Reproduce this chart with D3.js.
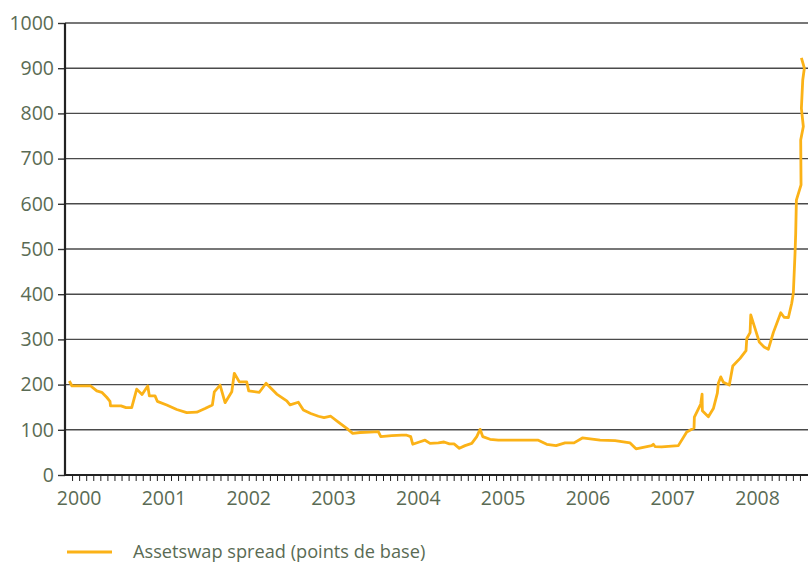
<!DOCTYPE html>
<html>
<head>
<meta charset="utf-8">
<script src="https://cdn.jsdelivr.net/npm/d3@7"></script>
<style>
  html, body { margin: 0; padding: 0; background: #fff; }
  svg { display: block; }
  text { font-family: "Open Sans", "Noto Sans", sans-serif; fill: #5a6b54; }
</style>
</head>
<body>
<div id="chart"></div>
<script>
//------------------------------------------------------
// Données
//------------------------------------------------------

// date en années décimales
const dates = [
  1999.884, 1999.916, 2000.137, 2000.208, 2000.267, 2000.325, 2000.364, 2000.370,
  2000.494, 2000.553, 2000.620, 2000.679, 2000.742, 2000.809, 2000.828, 2000.895,
  2000.922, 2001.033, 2001.151, 2001.269, 2001.387, 2001.485, 2001.571, 2001.594,
  2001.662, 2001.721, 2001.800, 2001.830, 2001.889, 2001.976, 2002.000, 2002.125,
  2002.204, 2002.330, 2002.448, 2002.487, 2002.585, 2002.644, 2002.731, 2002.821,
  2002.888, 2002.967, 2003.057, 2003.156, 2003.226, 2003.313, 2003.430, 2003.528,
  2003.557, 2003.686, 2003.804, 2003.863, 2003.910, 2003.934, 2004.012, 2004.079,
  2004.138, 2004.236, 2004.303, 2004.366, 2004.421, 2004.484, 2004.551, 2004.630,
  2004.689, 2004.728, 2004.759, 2004.846, 2004.943, 2005.081, 2005.415, 2005.514,
  2005.624, 2005.730, 2005.836, 2005.934, 2006.143, 2006.320, 2006.497, 2006.567,
  2006.752, 2006.771, 2006.791, 2006.870, 2007.066, 2007.165, 2007.251, 2007.255,
  2007.330, 2007.346, 2007.349, 2007.420, 2007.479, 2007.526, 2007.538, 2007.566,
  2007.597, 2007.667, 2007.708, 2007.794, 2007.864, 2007.873, 2007.912, 2007.920,
  2007.971, 2008.021, 2008.077, 2008.127, 2008.186, 2008.274, 2008.313, 2008.363,
  2008.403, 2008.422, 2008.442, 2008.450, 2008.458, 2008.513, 2008.509, 2008.540,
  2008.517, 2008.533, 2008.552, 2008.517
];

// spread en points de base
const spread = [
  208, 197, 197, 186, 183, 172, 163, 153,
  153, 149, 149, 190, 178, 197, 175, 175,
  163, 155, 145, 138, 139, 147, 155, 184,
  199, 160, 184, 225, 206, 206, 186, 183,
  203, 179, 164, 155, 161, 144, 136, 130,
  127, 130, 117, 103, 92, 94, 95, 96,
  85, 87, 88, 88, 85, 68, 73, 77,
  70, 71, 73, 69, 69, 59, 65, 70,
  85, 101, 85, 79, 77, 77, 77, 68,
  65, 71, 71, 82, 77, 76, 71, 58,
  65, 68, 63, 62, 65, 95, 104, 128,
  157, 179, 142, 129, 147, 181, 203, 217,
  205, 199, 241, 258, 275, 302, 315, 354,
  324, 294, 283, 278, 315, 359, 349, 348,
  380, 402, 490, 535, 608, 642, 741, 771,
  811, 874, 900, 923
];

const yTicks = [0, 100, 200, 300, 400, 500, 600, 700, 800, 900, 1000];
const yearLabels = [2000, 2001, 2002, 2003, 2004, 2005, 2006, 2007, 2008];
const legendLabel = "Assetswap spread (points de base)";

//------------------------------------------------------
// Graphique
//------------------------------------------------------

const width = 808;
const height = 563;
const margin = { top: 23, right: 0, bottom: 88, left: 65 };

const orange = "#fbb217";
const fontSize = 19.5;

const svg = d3.select("#chart").append("svg")
  .attr("width", width)
  .attr("height", height);

const x = d3.scaleLinear()
  .domain([1999 + 10 / 12, 2008.595])
  .range([margin.left, width - margin.right]);

const y = d3.scaleLinear()
  .domain([0, 1000])
  .range([height - margin.bottom, margin.top]);

// lignes de grille
svg.append("g")
  .selectAll("line")
  .data(yTicks.filter(d => d > 0))
  .join("line")
  .attr("x1", margin.left)
  .attr("x2", width)
  .attr("y1", d => y(d))
  .attr("y2", d => y(d))
  .attr("stroke", "#4a4a4a")
  .attr("stroke-width", 1.4);

// axe Y
const yAxis = svg.append("g")
  .attr("transform", `translate(${margin.left},0)`)
  .call(d3.axisLeft(y)
    .tickValues(yTicks)
    .tickFormat(d3.format("d"))
    .tickSize(7)
    .tickPadding(4));

yAxis.select(".domain").remove();
yAxis.selectAll(".tick line").attr("stroke", "#333").attr("stroke-width", 1.4);
yAxis.selectAll(".tick text")
  .attr("font-size", fontSize)
  .attr("font-family", "Open Sans")
  .attr("fill", "#5a6b54");

// ticks mensuels
const months = d3.range(1, 105).map(i => 1999 + 10 / 12 + i / 12)
  .filter(d => d <= x.domain()[1]);

const xAxis = svg.append("g")
  .attr("transform", `translate(0,${y(0)})`)
  .call(d3.axisBottom(x).tickValues(months).tickSize(6).tickFormat(""));

xAxis.select(".domain").remove();
xAxis.selectAll(".tick line").attr("stroke", "#222").attr("stroke-width", 1);

// libellés des années
svg.append("g")
  .selectAll("text")
  .data(yearLabels)
  .join("text")
  .attr("x", d => x(d))
  .attr("y", y(0) + 29.5)
  .attr("text-anchor", "middle")
  .attr("font-size", fontSize)
  .text(d => d);

// axes principaux
svg.append("line")
  .attr("x1", margin.left).attr("x2", margin.left)
  .attr("y1", y(1000)).attr("y2", y(0) + 1)
  .attr("stroke", "#222").attr("stroke-width", 2.2);

svg.append("line")
  .attr("x1", margin.left - 1).attr("x2", width)
  .attr("y1", y(0)).attr("y2", y(0))
  .attr("stroke", "#222").attr("stroke-width", 2.2);

// courbe
const line = d3.line()
  .x((d, i) => x(dates[i]))
  .y(d => y(d));

svg.append("path")
  .datum(spread)
  .attr("fill", "none")
  .attr("stroke", orange)
  .attr("stroke-width", 2.8)
  .attr("stroke-linejoin", "round")
  .attr("d", line);

// légende
const legend = svg.append("g")
  .attr("transform", `translate(67,${y(0) + 77})`);

legend.append("line")
  .attr("x1", 0).attr("x2", 45)
  .attr("y1", 0).attr("y2", 0)
  .attr("stroke", orange)
  .attr("stroke-width", 2.8);

legend.append("text")
  .attr("x", 66)
  .attr("y", 0)
  .attr("dy", "0.35em")
  .attr("font-size", 18.2)
  .text(legendLabel);
</script>
</body>
</html>
